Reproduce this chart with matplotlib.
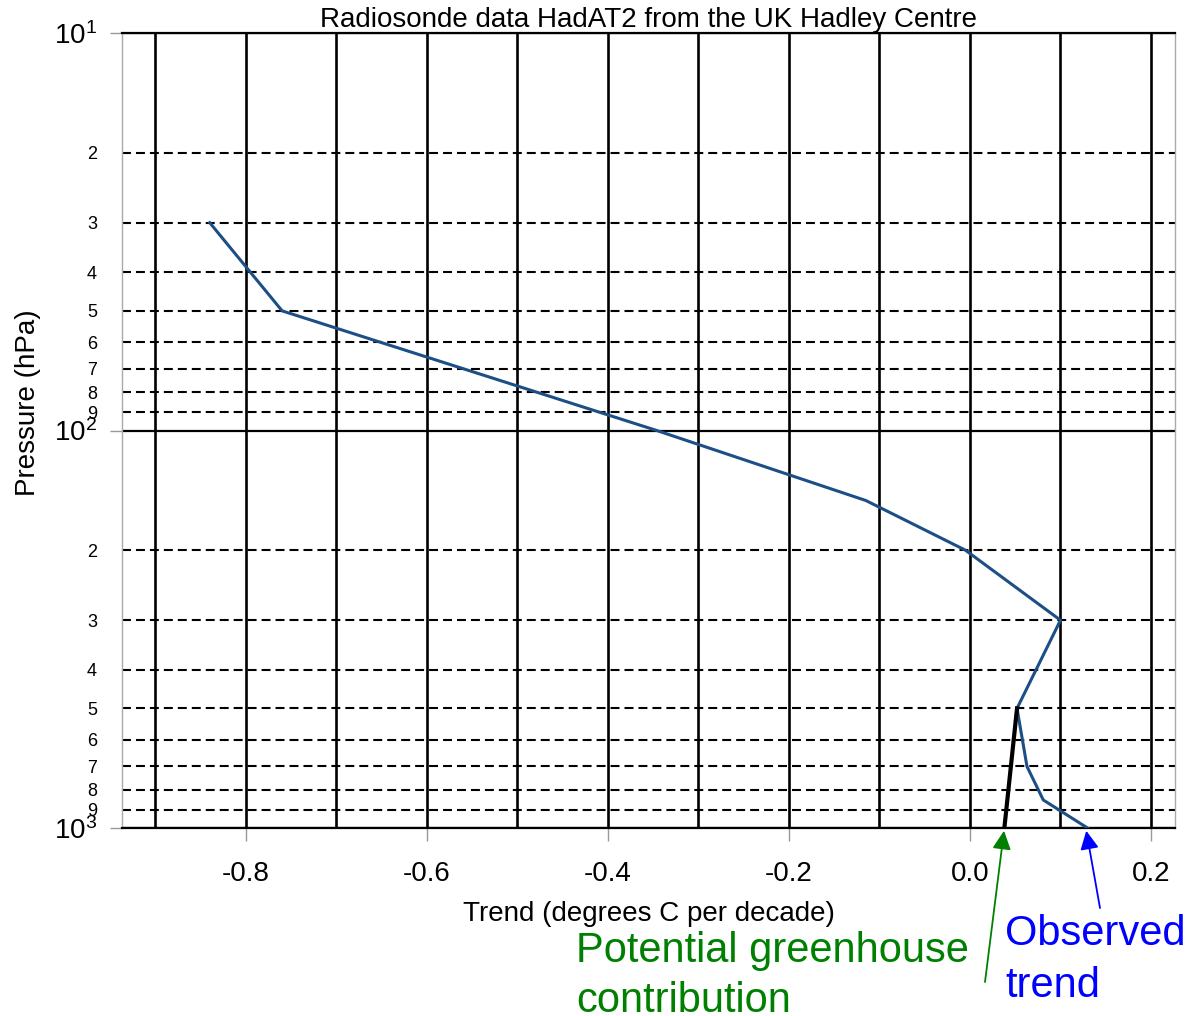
import numpy as np
import matplotlib
matplotlib.use('Agg')
import matplotlib.pyplot as plt

plt.rcParams['font.family'] = ['Liberation Sans', 'DejaVu Sans']
plt.rcParams['mathtext.fontset'] = 'custom'
plt.rcParams['mathtext.rm'] = 'Liberation Sans'
plt.rcParams['mathtext.it'] = 'Liberation Sans'
plt.rcParams['axes.unicode_minus'] = False

# Observed trend profile (degrees C per decade) by pressure level (hPa)
pressure = [1000, 850, 700, 500, 300, 200, 150, 100, 50, 30]
trend = [0.13, 0.081, 0.063, 0.052, 0.10, -0.005, -0.115, -0.346, -0.76, -0.84]

# Potential greenhouse contribution
ghg_pressure = [500, 1000]
ghg_trend = [0.052, 0.038]

x_ticks = [-0.8, -0.6, -0.4, -0.2, 0.0, 0.2]
x_tick_labels = ['-0.8', '-0.6', '-0.4', '-0.2', '0.0', '0.2']
x_grid = [-0.9, -0.7, -0.5, -0.3, -0.1, 0.1]
y_major = [10, 100, 1000]
y_major_labels = ['$10^{1}$', '$10^{2}$', '$10^{3}$']
y_minor = [20, 30, 40, 50, 60, 70, 80, 90, 200, 300, 400, 500, 600, 700, 800, 900]
y_minor_labels = ['2', '3', '4', '5', '6', '7', '8', '9'] * 2

fig = plt.figure(figsize=(11.92, 10.16), dpi=100)
ax = fig.add_axes([0.1023, 0.185, 0.8834, 0.7825])

ax.plot(trend, pressure, color='#1c4f86', lw=2.2, zorder=3)
ax.plot(ghg_trend, ghg_pressure, color='black', lw=3, zorder=4)

ax.set_yscale('log')
ax.set_ylim(1000, 10)
ax.set_xlim(-0.937, 0.2265)

ax.set_xticks(x_ticks)
ax.set_xticklabels(x_tick_labels)
ax.set_xticks(x_grid, minor=True)
ax.set_yticks(y_major)
ax.set_yticklabels(y_major_labels)
ax.set_yticks(y_minor, minor=True)
ax.set_yticklabels(y_minor_labels, minor=True)

ax.tick_params(axis='x', which='major', direction='out', length=9, width=1,
               color='#999999', labelsize=20, pad=15)
ax.tick_params(axis='x', which='minor', length=0)
ax.tick_params(axis='y', which='major', direction='out', length=9, width=1,
               color='#999999', labelsize=20, pad=9)
ax.tick_params(axis='y', which='minor', length=0, labelsize=13, pad=18)

ax.set_axisbelow(True)
ax.grid(which='both', axis='x', color='black', lw=1.9, ls='-')
ax.grid(which='major', axis='y', color='black', lw=1.6, ls='-')
ax.grid(which='minor', axis='y', color='black', lw=1.5, ls=(0, (4.3, 2.4)))

for side in ['left', 'right']:
    ax.spines[side].set_color('#aaaaaa')
    ax.spines[side].set_linewidth(1)
for side in ['top', 'bottom']:
    ax.spines[side].set_color('black')
    ax.spines[side].set_linewidth(1.6)

ax.set_title('Radiosonde data HadAT2 from the UK Hadley Centre', fontsize=20, pad=4)
ax.set_xlabel('Trend (degrees C per decade)', fontsize=20, labelpad=10)
ax.set_ylabel('Pressure (hPa)', fontsize=20)
ax.yaxis.set_label_coords(-0.077, 0.535)

H = 1016
fig.text(576, H - 962, 'Potential greenhouse', color='#008000', fontsize=30,
         transform=None, va='baseline')
fig.text(576, H - 1012, 'contribution', color='#008000', fontsize=30,
         transform=None, va='baseline')
fig.text(1005, H - 945, 'Observed', color='#0000ff', fontsize=30,
         transform=None, va='baseline')
fig.text(1005, H - 997, 'trend', color='#0000ff', fontsize=30,
         transform=None, va='baseline')

ax.annotate('', xy=(ghg_trend[1], 1000), xycoords='data',
            xytext=(985, H - 982), textcoords='figure pixels',
            arrowprops=dict(arrowstyle='-|>', color='#008000', lw=1.3,
                            mutation_scale=28, shrinkA=0, shrinkB=2),
            annotation_clip=False)
ax.annotate('', xy=(trend[0] - 0.002, 1000), xycoords='data',
            xytext=(1100, H - 908), textcoords='figure pixels',
            arrowprops=dict(arrowstyle='-|>', color='#0000ff', lw=1.3,
                            mutation_scale=28, shrinkA=0, shrinkB=2),
            annotation_clip=False)

fig.savefig('out.png', dpi=100)
